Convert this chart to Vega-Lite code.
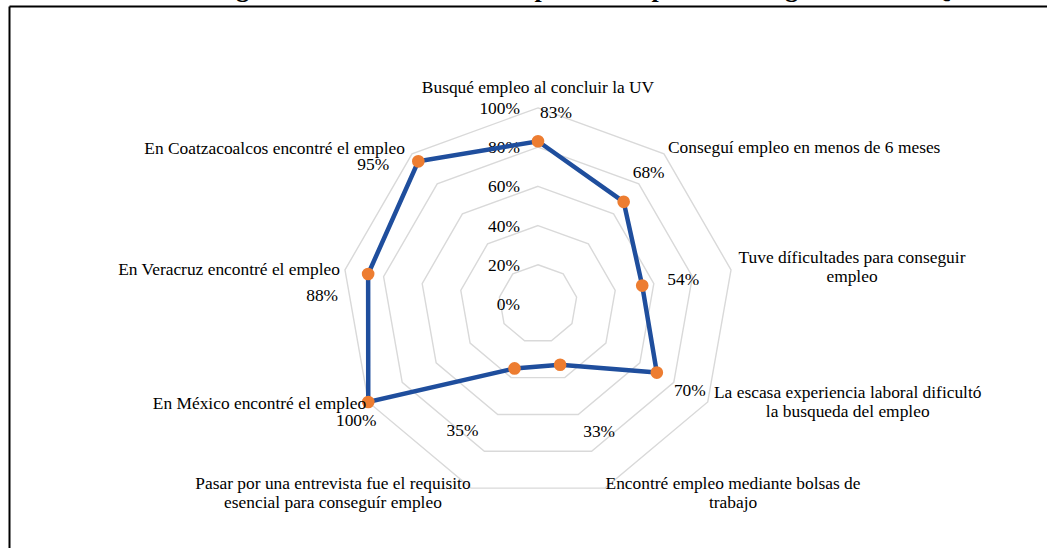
{
  "$schema": "https://vega.github.io/schema/vega-lite/v6.json",
  "width": 1038,
  "height": 542,
  "autosize": {"type": "none"},
  "padding": {"left": 9, "top": 6, "right": 0, "bottom": 0},
  "background": "white",
  "title": {
    "text": "Figura 3. Características del primer empleo de los egresados de IQ",
    "font": "Liberation Serif",
    "fontSize": 26,
    "fontWeight": "bold",
    "color": "black",
    "anchor": "middle",
    "baseline": "alphabetic",
    "offset": 0,
    "dy": 17,
    "dx": 54
  },
  "config": {
    "view": {"stroke": null},
    "font": "Liberation Serif",
    "text": {"font": "Liberation Serif", "fontSize": 17.4, "fill": "black", "lineBreak": "\n", "lineHeight": 19, "baseline": "middle", "align": "center"}
  },
  "data": {
    "values": [
      {"idx": 0, "categoria": "Busqué empleo al concluir la UV", "valor": 0.83, "niveles": [0, 0.2, 0.4, 0.6, 0.8, 1]},
      {"idx": 1, "categoria": "Conseguí empleo en menos de 6 meses", "valor": 0.68, "niveles": [0, 0.2, 0.4, 0.6, 0.8, 1]},
      {"idx": 2, "categoria": "Tuve díficultades para conseguir\nempleo", "valor": 0.54, "niveles": [0, 0.2, 0.4, 0.6, 0.8, 1]},
      {"idx": 3, "categoria": "La escasa experiencia laboral dificultó\nla busqueda del empleo", "valor": 0.70, "niveles": [0, 0.2, 0.4, 0.6, 0.8, 1]},
      {"idx": 4, "categoria": "Encontré empleo mediante bolsas de\ntrabajo", "valor": 0.33, "niveles": [0, 0.2, 0.4, 0.6, 0.8, 1]},
      {"idx": 5, "categoria": "Pasar por una entrevista fue el requisito\nesencial para conseguír empleo", "valor": 0.35, "niveles": [0, 0.2, 0.4, 0.6, 0.8, 1]},
      {"idx": 6, "categoria": "En México encontré el empleo", "valor": 1.00, "niveles": [0, 0.2, 0.4, 0.6, 0.8, 1]},
      {"idx": 7, "categoria": "En Veracruz encontré el empleo", "valor": 0.88, "niveles": [0, 0.2, 0.4, 0.6, 0.8, 1]},
      {"idx": 8, "categoria": "En Coatzacoalcos encontré el empleo", "valor": 0.95, "niveles": [0, 0.2, 0.4, 0.6, 0.8, 1]}
    ]
  },
  "transform": [
    {"calculate": "datum.idx * 2 * PI / 9", "as": "ang"},
    {"calculate": "datum.valor * sin(datum.ang)", "as": "px"},
    {"calculate": "datum.valor * cos(datum.ang)", "as": "py"}
  ],
  "encoding": {
    "x": {
      "field": "px", "type": "quantitative",
      "scale": {"domain": [-2.699, 2.597], "nice": false, "zero": false},
      "axis": {"orient": "top", "labels": false, "ticks": false, "grid": false, "title": null, "domain": true, "domainColor": "black", "domainWidth": 2, "minExtent": 0, "maxExtent": 0}
    },
    "y": {
      "field": "py", "type": "quantitative",
      "scale": {"domain": [-1.245, 1.52], "nice": false, "zero": false},
      "axis": {"orient": "left", "labels": false, "ticks": false, "grid": false, "title": null, "domain": true, "domainColor": "black", "domainWidth": 2, "minExtent": 0, "maxExtent": 0}
    }
  },
  "layer": [
    {
      "transform": [
        {"flatten": ["niveles"], "as": ["nivel"]},
        {"filter": "datum.nivel > 0"},
        {"calculate": "datum.nivel * sin(datum.ang)", "as": "px"},
        {"calculate": "datum.nivel * cos(datum.ang)", "as": "py"}
      ],
      "mark": {"type": "line", "interpolate": "linear-closed", "stroke": "#d9d9d9", "strokeWidth": 1.4},
      "encoding": {"detail": {"field": "nivel"}, "order": {"field": "idx", "type": "quantitative"}}
    },
    {
      "transform": [
        {"filter": "datum.idx == 0"},
        {"flatten": ["niveles"], "as": ["nivel"]},
        {"calculate": "0", "as": "px"},
        {"calculate": "datum.nivel", "as": "py"}
      ],
      "mark": {"type": "text", "align": "right", "dx": -18, "dy": 1},
      "encoding": {"text": {"field": "nivel", "type": "quantitative", "format": ".0%"}}
    },
    {
      "mark": {"type": "line", "interpolate": "linear-closed", "stroke": "#1f4e9d", "strokeWidth": 4.5},
      "encoding": {"order": {"field": "idx", "type": "quantitative"}}
    },
    {
      "mark": {"type": "point", "shape": "circle", "filled": true, "fill": "#ED7D31", "opacity": 1, "size": 160, "strokeWidth": 0}
    },
    {"transform": [{"filter": "datum.idx == 0"}], "mark": {"type": "text", "dx": 18, "dy": -28}, "encoding": {"text": {"field": "valor", "type": "quantitative", "format": ".0%"}}},
    {"transform": [{"filter": "datum.idx == 1"}], "mark": {"type": "text", "dx": 25, "dy": -29}, "encoding": {"text": {"field": "valor", "type": "quantitative", "format": ".0%"}}},
    {"transform": [{"filter": "datum.idx == 2"}], "mark": {"type": "text", "dx": 41, "dy": -6}, "encoding": {"text": {"field": "valor", "type": "quantitative", "format": ".0%"}}},
    {"transform": [{"filter": "datum.idx == 3"}], "mark": {"type": "text", "dx": 33, "dy": 18}, "encoding": {"text": {"field": "valor", "type": "quantitative", "format": ".0%"}}},
    {"transform": [{"filter": "datum.idx == 4"}], "mark": {"type": "text", "dx": 39, "dy": 67}, "encoding": {"text": {"field": "valor", "type": "quantitative", "format": ".0%"}}},
    {"transform": [{"filter": "datum.idx == 5"}], "mark": {"type": "text", "dx": -52, "dy": 63}, "encoding": {"text": {"field": "valor", "type": "quantitative", "format": ".0%"}}},
    {"transform": [{"filter": "datum.idx == 6"}], "mark": {"type": "text", "dx": -12, "dy": 19}, "encoding": {"text": {"field": "valor", "type": "quantitative", "format": ".0%"}}},
    {"transform": [{"filter": "datum.idx == 7"}], "mark": {"type": "text", "dx": -46, "dy": 22}, "encoding": {"text": {"field": "valor", "type": "quantitative", "format": ".0%"}}},
    {"transform": [{"filter": "datum.idx == 8"}], "mark": {"type": "text", "dx": -45, "dy": 4}, "encoding": {"text": {"field": "valor", "type": "quantitative", "format": ".0%"}}},
    {"transform": [{"filter": "datum.idx == 0"}, {"calculate": "sin(datum.ang)", "as": "px"}, {"calculate": "cos(datum.ang)", "as": "py"}], "mark": {"type": "text", "align": "center", "dx": 0, "dy": -20}, "encoding": {"text": {"field": "categoria"}}},
    {"transform": [{"filter": "datum.idx == 1"}, {"calculate": "sin(datum.ang)", "as": "px"}, {"calculate": "cos(datum.ang)", "as": "py"}], "mark": {"type": "text", "align": "left", "dx": 4, "dy": -6}, "encoding": {"text": {"field": "categoria"}}},
    {"transform": [{"filter": "datum.idx == 2"}, {"calculate": "sin(datum.ang)", "as": "px"}, {"calculate": "cos(datum.ang)", "as": "py"}], "mark": {"type": "text", "align": "center", "dx": 121, "dy": -12}, "encoding": {"text": {"field": "categoria"}}},
    {"transform": [{"filter": "datum.idx == 3"}, {"calculate": "sin(datum.ang)", "as": "px"}, {"calculate": "cos(datum.ang)", "as": "py"}], "mark": {"type": "text", "align": "center", "dx": 140, "dy": -9}, "encoding": {"text": {"field": "categoria"}}},
    {"transform": [{"filter": "datum.idx == 4"}, {"calculate": "sin(datum.ang)", "as": "px"}, {"calculate": "cos(datum.ang)", "as": "py"}], "mark": {"type": "text", "align": "center", "dx": 128, "dy": -4.5}, "encoding": {"text": {"field": "categoria"}}},
    {"transform": [{"filter": "datum.idx == 5"}, {"calculate": "sin(datum.ang)", "as": "px"}, {"calculate": "cos(datum.ang)", "as": "py"}], "mark": {"type": "text", "align": "center", "dx": -138, "dy": -4.5}, "encoding": {"text": {"field": "categoria"}}},
    {"transform": [{"filter": "datum.idx == 6"}, {"calculate": "sin(datum.ang)", "as": "px"}, {"calculate": "cos(datum.ang)", "as": "py"}], "mark": {"type": "text", "align": "right", "dx": -2, "dy": 2}, "encoding": {"text": {"field": "categoria"}}},
    {"transform": [{"filter": "datum.idx == 7"}, {"calculate": "sin(datum.ang)", "as": "px"}, {"calculate": "cos(datum.ang)", "as": "py"}], "mark": {"type": "text", "align": "right", "dx": -5, "dy": 0}, "encoding": {"text": {"field": "categoria"}}},
    {"transform": [{"filter": "datum.idx == 8"}, {"calculate": "sin(datum.ang)", "as": "px"}, {"calculate": "cos(datum.ang)", "as": "py"}], "mark": {"type": "text", "align": "right", "dx": -7, "dy": -5}, "encoding": {"text": {"field": "categoria"}}}
  ]
}
